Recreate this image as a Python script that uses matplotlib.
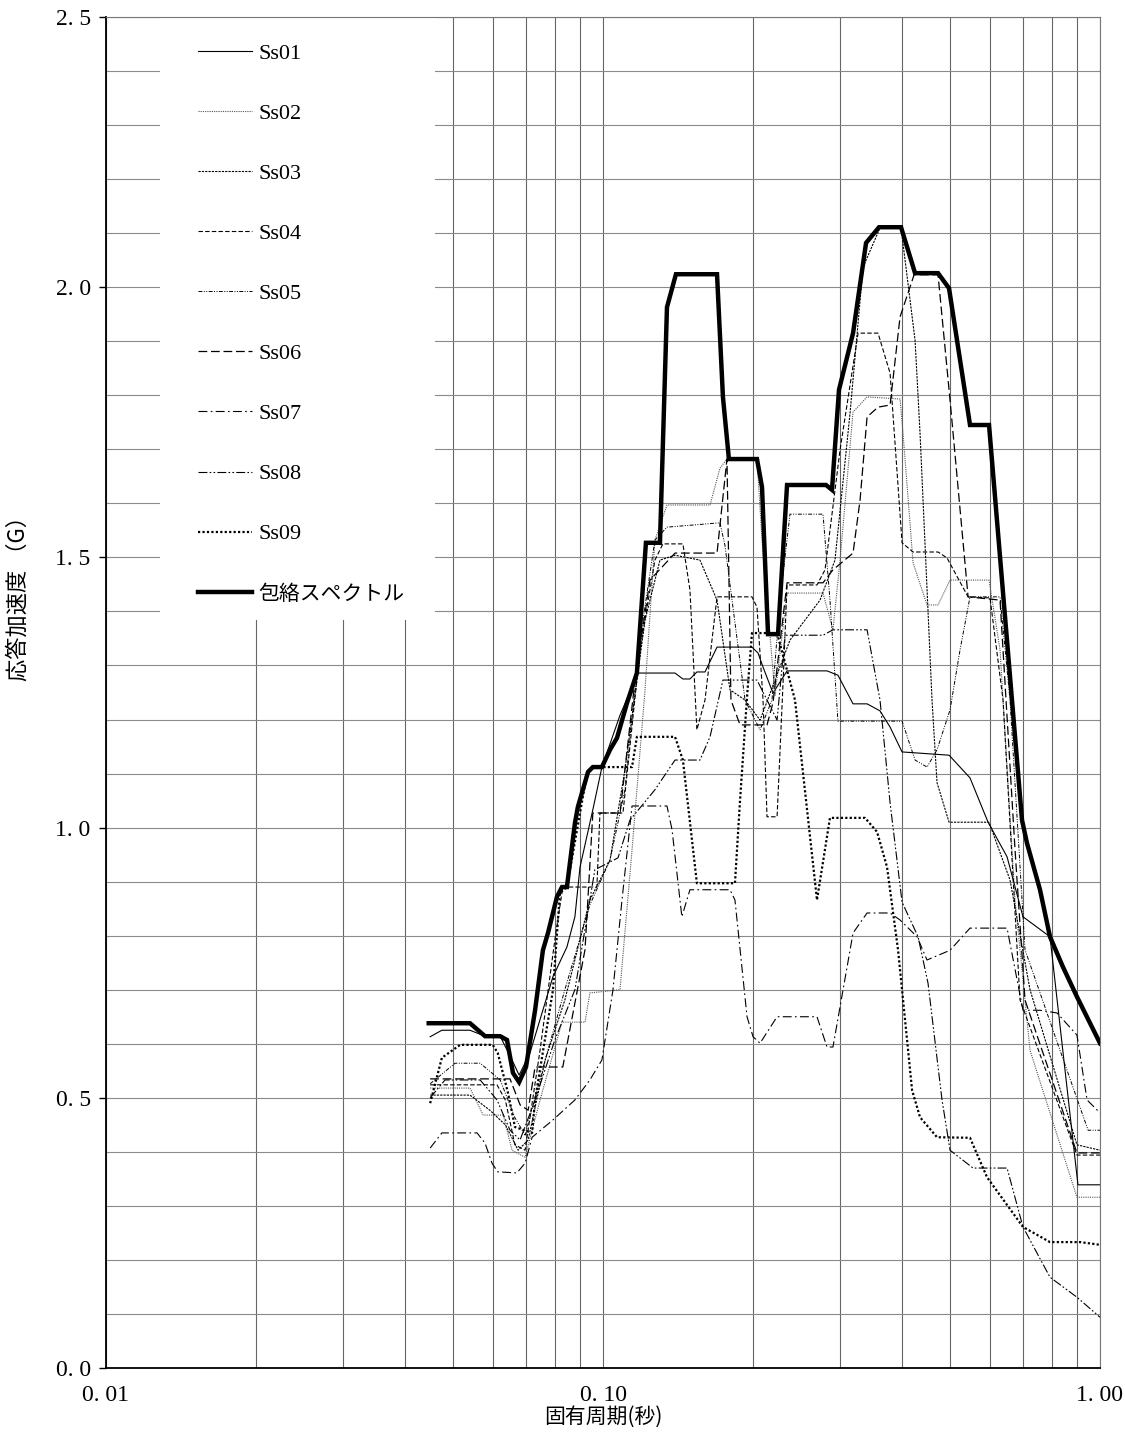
import numpy as np
import matplotlib
matplotlib.use("Agg")
import matplotlib.pyplot as plt
from matplotlib.patches import Rectangle
from matplotlib.ticker import LogLocator, MultipleLocator, NullFormatter

plt.rcParams['font.family'] = ['Liberation Serif', 'Noto Sans CJK JP']

# envelope (thick line)
T_env = [0.0446, 0.0540, 0.0579, 0.0621, 0.0641, 0.0659, 0.0678, 0.0700, 0.0730, 0.0757, 0.0775, 0.0808, 0.0827, 0.0846,
         0.0878, 0.0890, 0.0933, 0.0954, 0.0995, 0.1033, 0.1067, 0.1118, 0.1170, 0.1220, 0.1302, 0.1345, 0.1402, 0.1696,
         0.1743, 0.1792, 0.2041, 0.2089, 0.2148, 0.2250, 0.2346, 0.2810, 0.2889, 0.2984, 0.3185, 0.3383, 0.3593, 0.3978,
         0.4245, 0.4722, 0.4969, 0.5476, 0.5980, 0.6967, 0.7131, 0.7573, 0.7932, 0.8424, 0.8987, 1.0]
G_env = [0.638, 0.638, 0.614, 0.614, 0.607, 0.546, 0.529, 0.557, 0.662, 0.773, 0.805, 0.872, 0.890, 0.890,
         1.008, 1.038, 1.103, 1.112, 1.112, 1.144, 1.166, 1.231, 1.286, 1.527, 1.527, 1.963, 2.024, 2.024,
         1.797, 1.682, 1.682, 1.630, 1.358, 1.358, 1.634, 1.634, 1.625, 1.810, 1.915, 2.082, 2.111, 2.111,
         2.026, 2.026, 1.998, 1.745, 1.745, 1.014, 0.971, 0.885, 0.798, 0.742, 0.687, 0.601]

T1 = [0.0449, 0.0474, 0.0540, 0.0579, 0.0621, 0.0656, 0.0678, 0.0713, 0.0793, 0.0846, 0.0878, 0.0899, 0.0954, 0.0995,
      0.1082, 0.1176, 0.1396, 0.1448, 0.1496, 0.1545, 0.1604, 0.1696, 0.1994, 0.2051, 0.2099, 0.2198, 0.2346, 0.2823,
      0.2970, 0.3185, 0.3399, 0.3609, 0.3781, 0.3997, 0.4969, 0.5476, 0.5953, 0.6501, 0.6999, 0.7932, 0.9029, 1.0]
G1 = [0.613, 0.625, 0.625, 0.614, 0.614, 0.570, 0.542, 0.583, 0.724, 0.779, 0.835, 0.927, 1.033, 1.112,
      1.208, 1.286, 1.286, 1.275, 1.275, 1.288, 1.288, 1.334, 1.334, 1.323, 1.297, 1.249, 1.290, 1.290,
      1.282, 1.229, 1.229, 1.216, 1.186, 1.140, 1.134, 1.092, 1.010, 0.946, 0.835, 0.798, 0.339, 0.339]

T2 = [0.0449, 0.0540, 0.0574, 0.0630, 0.0656, 0.0697, 0.0747, 0.0827, 0.0920, 0.0941, 0.1082, 0.1144, 0.1215, 0.1272,
      0.1345, 0.1642, 0.1719, 0.1776, 0.2041, 0.2089, 0.2219, 0.2346, 0.2771, 0.2902, 0.2999, 0.3185, 0.3399, 0.3960,
      0.4015, 0.4206, 0.4487, 0.4722, 0.4992, 0.5980, 0.6293, 0.6746, 0.7231, 0.8987, 1.0]
G2 = [0.518, 0.518, 0.468, 0.468, 0.403, 0.390, 0.496, 0.640, 0.640, 0.694, 0.700, 0.959, 1.255, 1.532,
      1.597, 1.597, 1.665, 1.682, 1.682, 1.532, 1.245, 1.434, 1.434, 1.366, 1.495, 1.769, 1.797, 1.793,
      1.730, 1.490, 1.412, 1.412, 1.458, 1.458, 1.329, 0.866, 0.588, 0.316, 0.316]

T3 = [0.0449, 0.0540, 0.0592, 0.0636, 0.0675, 0.0707, 0.0765, 0.0838, 0.0941, 0.1033, 0.1107, 0.1215, 0.1302, 0.1396,
      0.1567, 0.1696, 0.1801, 0.1931, 0.2070, 0.2219, 0.2378, 0.2733, 0.2929, 0.3141, 0.3336, 0.3609, 0.3978, 0.4245,
      0.4344, 0.4592, 0.4700, 0.4969, 0.5980, 0.6591, 0.7231, 0.8987, 1.0]
G3 = [0.505, 0.505, 0.477, 0.450, 0.403, 0.422, 0.570, 0.681, 0.866, 0.940, 1.107, 1.384, 1.495, 1.504,
      1.495, 1.421, 1.255, 1.236, 1.199, 1.273, 1.347, 1.421, 1.495, 1.767, 2.037, 2.110, 2.110, 1.902,
      1.730, 1.236, 1.083, 1.010, 1.010, 0.903, 0.700, 0.413, 0.403]

T4 = [0.0449, 0.0612, 0.0636, 0.0665, 0.0697, 0.0747, 0.0800, 0.0830, 0.0972, 0.0986, 0.1097, 0.1187, 0.1272, 0.1320,
      0.1448, 0.1496, 0.1545, 0.1604, 0.1696, 0.1994, 0.2041, 0.2099, 0.2138, 0.2240, 0.2303, 0.2346, 0.2695, 0.2797,
      0.2999, 0.3260, 0.3576, 0.3781, 0.3997, 0.4206, 0.4722, 0.4923, 0.5427, 0.6008, 0.6381, 0.6903, 0.8987, 1.0]
G4 = [0.524, 0.524, 0.496, 0.413, 0.403, 0.588, 0.792, 0.890, 0.890, 1.027, 1.027, 1.329, 1.495, 1.525,
      1.525, 1.440, 1.181, 1.236, 1.427, 1.427, 1.408, 1.236, 1.020, 1.020, 1.268, 1.449, 1.449, 1.477,
      1.699, 1.915, 1.915, 1.841, 1.527, 1.510, 1.510, 1.499, 1.427, 1.425, 1.236, 0.681, 0.394, 0.394]

T5 = [0.0449, 0.0504, 0.0566, 0.0621, 0.0665, 0.0697, 0.0765, 0.0838, 0.0941, 0.1033, 0.1107, 0.1187, 0.1272, 0.1345,
      0.1719, 0.1759, 0.1818, 0.1931, 0.2070, 0.2188, 0.2271, 0.2378, 0.2771, 0.2862, 0.2970, 0.3997, 0.4245, 0.4487,
      0.4700, 0.4992, 0.5229, 0.5476, 0.6293, 0.6591, 0.7065, 0.8308, 0.9463, 1.0]
G5 = [0.526, 0.564, 0.564, 0.533, 0.463, 0.431, 0.570, 0.700, 0.857, 0.940, 1.070, 1.347, 1.532, 1.556,
      1.564, 1.523, 1.421, 1.236, 1.181, 1.236, 1.421, 1.580, 1.580, 1.421, 1.197, 1.197, 1.125, 1.112,
      1.144, 1.218, 1.329, 1.427, 1.427, 1.236, 0.774, 0.588, 0.440, 0.440]

T6 = [0.0449, 0.0650, 0.0681, 0.0707, 0.0730, 0.0830, 0.0920, 0.0954, 0.1082, 0.1160, 0.1243, 0.1396, 0.1696, 0.1776,
      0.1809, 0.1887, 0.2138, 0.2198, 0.2346, 0.2771, 0.2902, 0.3185, 0.3290, 0.3399, 0.3576, 0.3781, 0.3960, 0.4226,
      0.4722, 0.4992, 0.5427, 0.6293, 0.6746, 0.7065, 0.8987, 1.0]
G6 = [0.535, 0.535, 0.487, 0.477, 0.557, 0.557, 0.774, 1.027, 1.027, 1.273, 1.458, 1.508, 1.508, 1.682,
      1.236, 1.190, 1.190, 1.231, 1.453, 1.453, 1.477, 1.508, 1.606, 1.760, 1.778, 1.782, 1.945, 2.023,
      2.023, 1.791, 1.427, 1.421, 0.959, 0.681, 0.398, 0.398]

T7 = [0.0449, 0.0474, 0.0558, 0.0579, 0.0598, 0.0614, 0.0671, 0.0697, 0.0720, 0.0793, 0.0878, 0.0941, 0.0995, 0.1047,
      0.1092, 0.1144, 0.1345, 0.1377, 0.1441, 0.1496, 0.1801, 0.1843, 0.1949, 0.2004, 0.2070, 0.2240, 0.2695, 0.2823,
      0.2902, 0.3098, 0.3185, 0.3399, 0.3781, 0.3960, 0.4285, 0.4487, 0.4992, 0.5476, 0.6501, 0.6999, 0.7573, 0.8194,
      0.8987, 0.9419, 1.0]
G7 = [0.407, 0.435, 0.435, 0.416, 0.379, 0.363, 0.361, 0.379, 0.427, 0.459, 0.496, 0.533, 0.570, 0.699,
      0.866, 1.040, 1.040, 0.996, 0.835, 0.885, 0.885, 0.866, 0.650, 0.613, 0.601, 0.650, 0.650, 0.594,
      0.594, 0.742, 0.805, 0.842, 0.842, 0.829, 0.798, 0.755, 0.773, 0.814, 0.814, 0.662, 0.662, 0.657,
      0.616, 0.496, 0.472]

T8 = [0.0449, 0.0481, 0.0566, 0.0612, 0.0650, 0.0681, 0.0730, 0.0800, 0.0878, 0.0963, 0.1072, 0.1133, 0.1272, 0.1396,
      0.1567, 0.1642, 0.1743, 0.2041, 0.2138, 0.2240, 0.2324, 0.2771, 0.2902, 0.3399, 0.3609, 0.3781, 0.3997, 0.4305,
      0.4508, 0.4810, 0.4992, 0.5553, 0.6501, 0.6999, 0.7932, 0.8987, 1.0]
G8 = [0.500, 0.533, 0.533, 0.496, 0.440, 0.422, 0.496, 0.607, 0.700, 0.922, 0.944, 1.014, 1.070, 1.125,
      1.125, 1.168, 1.273, 1.273, 1.236, 1.199, 1.356, 1.356, 1.366, 1.366, 1.236, 1.046, 0.862, 0.798,
      0.712, 0.496, 0.403, 0.370, 0.370, 0.261, 0.168, 0.131, 0.094]

T9 = [0.0449, 0.0474, 0.0516, 0.0600, 0.0614, 0.0644, 0.0665, 0.0720, 0.0730, 0.0793, 0.0819, 0.0846, 0.0929, 0.0954,
      0.1144, 0.1170, 0.1396, 0.1448, 0.1545, 0.1843, 0.1887, 0.1949, 0.1994, 0.2240, 0.2434, 0.2695, 0.2862, 0.3367,
      0.3560, 0.3728, 0.3924, 0.4187, 0.4344, 0.4700, 0.5476, 0.5925, 0.6999, 0.7932, 0.9118, 1.0]
G9 = [0.490, 0.574, 0.598, 0.598, 0.583, 0.509, 0.446, 0.435, 0.496, 0.699, 0.879, 0.890, 1.101, 1.112,
      1.112, 1.168, 1.168, 1.125, 0.897, 0.897, 1.051, 1.242, 1.360, 1.360, 1.236, 0.866, 1.018, 1.018,
      0.992, 0.927, 0.773, 0.514, 0.464, 0.427, 0.426, 0.353, 0.261, 0.233, 0.233, 0.228]

labels = ['Ss01', 'Ss02', 'Ss03', 'Ss04', 'Ss05', 'Ss06', 'Ss07', 'Ss08', 'Ss09']
series = [(T1, G1), (T2, G2), (T3, G3), (T4, G4), (T5, G5), (T6, G6), (T7, G7), (T8, G8), (T9, G9)]
# line styles per wave: (dash pattern, width, colour)
styles = [
    ('-', 0.8, 'black'),
    ((0, (1, 1)), 0.8, '#555555'),
    ((0, (2, 1)), 0.8, 'black'),
    ((0, (4, 2)), 0.8, 'black'),
    ((0, (4, 1.5, 1, 1.5, 1, 1.5)), 0.7, 'black'),
    ((0, (7, 3)), 0.9, 'black'),
    ((0, (8, 3, 1.5, 3)), 0.8, 'black'),
    ((0, (8, 2, 1.5, 2, 1.5, 2)), 0.8, 'black'),
    ((0, (1, 1)), 1.6, 'black'),
]

fig = plt.figure(figsize=(11.25, 14.39), dpi=100)
ax = fig.add_axes([106 / 1125, 1 - 1368 / 1439, 994 / 1125, 1351 / 1439])

for (t, g), lab, (ls, lw, c) in zip(series, labels, styles):
    ax.plot(t, g, linestyle=ls, linewidth=lw, color=c, label=lab)
ax.plot(T_env, G_env, color='black', linewidth=3.2, solid_joinstyle='miter', label='包絡スペクトル', zorder=5)

ax.set_xscale('log')
ax.set_xlim(0.01, 1.0)
ax.set_ylim(0, 2.5)

ax.set_xticks([0.01, 0.1, 1.0])
ax.set_xticklabels(['0. 01', '0. 10', '1. 00'])
ax.xaxis.set_minor_locator(LogLocator(base=10, subs=np.arange(2, 10)))
ax.xaxis.set_minor_formatter(NullFormatter())
yt = np.arange(0, 2.51, 0.5)
ax.set_yticks(yt)
ax.set_yticklabels([f"{v:.1f}".replace('.', '. ') for v in yt])
ax.yaxis.set_minor_locator(MultipleLocator(0.1))

ax.tick_params(axis='x', which='both', length=0, pad=12, labelsize=17)
ax.tick_params(axis='y', which='major', length=5, width=1, pad=6, labelsize=17)
ax.tick_params(axis='y', which='minor', length=0)

ax.grid(True, axis='x', which='both', color='#666666', linewidth=0.8)
ax.grid(True, axis='y', which='both', color='#8a8a8a', linewidth=0.8)
ax.set_axisbelow(True)

for s in ('top', 'right'):
    ax.spines[s].set_color('#777777')
    ax.spines[s].set_linewidth(0.8)
for s in ('left', 'bottom'):
    ax.spines[s].set_linewidth(1.3)

ax.set_xlabel('固有周期(秒)', fontsize=15, family=['Noto Sans CJK JP'], labelpad=0)
fig.text(18 / 1125, 1 - 505 / 1439, '応答加速度 （G）', rotation=90, ha='center', va='top',
         fontsize=16, family=['Noto Sans CJK JP', 'DejaVu Sans'])

# white panel behind the legend, hiding the grid there
ax.add_patch(Rectangle((54 / 994, (1368 - 620) / 1351), 275 / 994, 1 - (1368 - 620) / 1351,
                       transform=ax.transAxes, facecolor='white', edgecolor='none', zorder=1))

leg = ax.legend(loc='upper left', bbox_to_anchor=(92 / 994, (1368 - 43) / 1351), borderaxespad=0,
                frameon=False, fontsize=16, labelspacing=1.78, handlelength=2.45,
                handletextpad=0.28, borderpad=0)
leg.get_texts()[-1].set_fontsize(15)
leg.set_zorder(10)

fig.savefig('out.png', dpi=100)
